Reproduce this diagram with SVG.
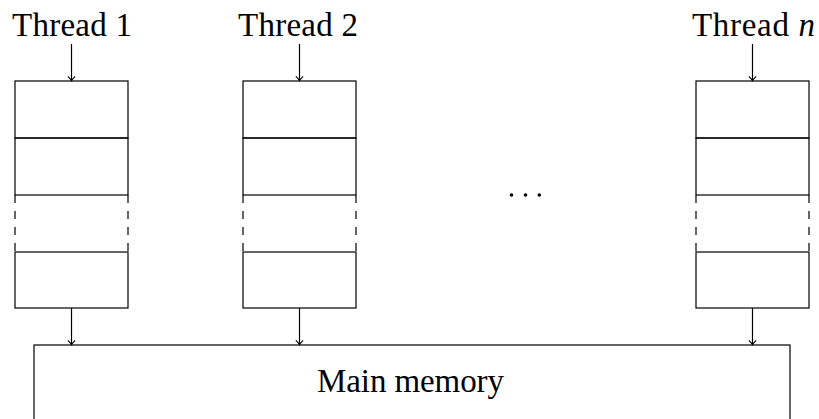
<svg xmlns="http://www.w3.org/2000/svg" width="819" height="419" viewBox="0 0 819 419">
<defs>
<style>
.lbl{font-family:"Liberation Serif","Times New Roman",serif;font-size:33px;fill:#000}
.box{fill:none;stroke:#000;stroke-width:1.2}
.dash{fill:none;stroke:#000;stroke-width:1.2;stroke-dasharray:8 8}
.arr{fill:none;stroke:#000;stroke-width:1.2;marker-end:url(#tip)}
</style>
<marker id="tip" markerUnits="userSpaceOnUse" markerWidth="12" markerHeight="12" viewBox="-6 -6 12 12" refX="0" refY="0" orient="auto" overflow="visible">
<path d="M-4.2,-3.6 Q-1,-0.6 0,0 Q-1,0.6 -4.2,3.6" fill="none" stroke="#000" stroke-width="1.1"/>
</marker>
<g id="stack">
<rect class="box" x="0" y="0" width="113" height="57"/>
<rect class="box" x="0" y="57" width="113" height="57"/>
<line class="dash" x1="0" y1="114" x2="0" y2="171"/>
<line class="dash" x1="113" y1="114" x2="113" y2="171"/>
<rect class="box" x="0" y="171" width="113" height="56"/>
</g>
</defs>
<g id="thread1">
<text class="lbl" x="12" y="36" textLength="120" lengthAdjust="spacing">Thread 1</text>
<use href="#stack" x="15" y="81"/>
</g>
<g id="thread2">
<text class="lbl" x="238" y="36" textLength="120" lengthAdjust="spacing">Thread 2</text>
<use href="#stack" x="243" y="81"/>
</g>
<g id="threadn">
<text class="lbl" x="692" y="36" textLength="123" lengthAdjust="spacing">Thread <tspan font-style="italic">n</tspan></text>
<use href="#stack" x="696" y="81"/>
</g>
<g id="dots">
<circle cx="511.5" cy="195" r="1.8" fill="#000"/>
<circle cx="525.5" cy="195" r="1.8" fill="#000"/>
<circle cx="539.3" cy="195" r="1.8" fill="#000"/>
</g>
<g id="memory">
<rect class="box" x="34" y="345" width="756" height="80"/>
<text class="lbl" x="317" y="392" textLength="187" lengthAdjust="spacing">Main memory</text>
</g>
<g id="connectors">
<line class="arr" x1="71.5" y1="44" x2="71.5" y2="80.6"/>
<line class="arr" x1="299.5" y1="44" x2="299.5" y2="80.6"/>
<line class="arr" x1="752.5" y1="44" x2="752.5" y2="80.6"/>
<line class="arr" x1="71.5" y1="308" x2="71.5" y2="344.6"/>
<line class="arr" x1="299.5" y1="308" x2="299.5" y2="344.6"/>
<line class="arr" x1="752.5" y1="308" x2="752.5" y2="344.6"/>
</g>
</svg>
